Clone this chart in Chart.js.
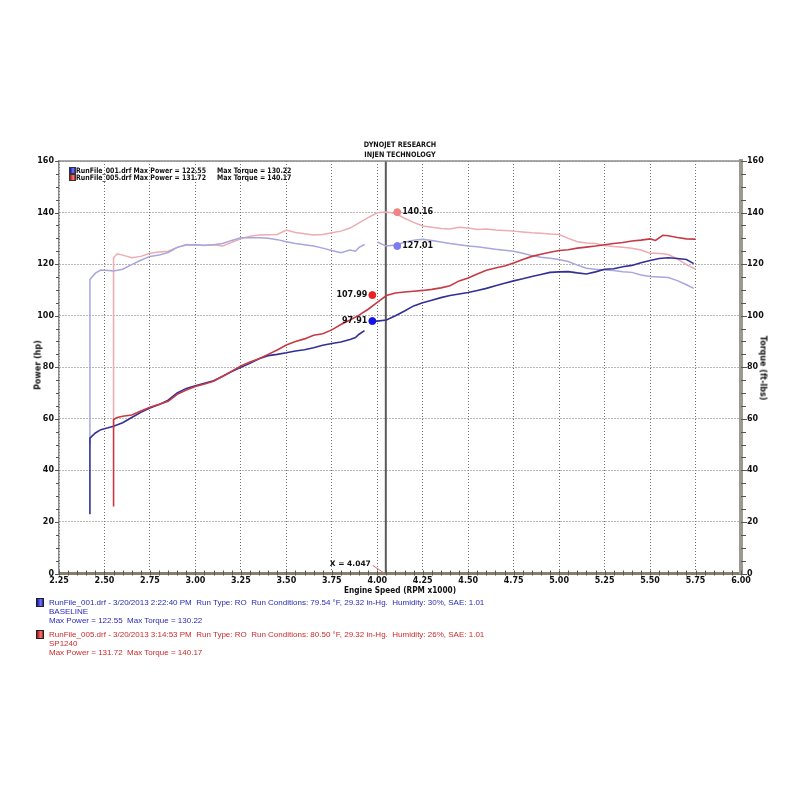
<!DOCTYPE html>
<html>
<head>
<meta charset="utf-8">
<script src="https://cdn.jsdelivr.net/npm/chart.js@4.4.0/dist/chart.umd.min.js"></script>
<style>
  body { margin: 0; background: #fff; }
  #wrap { position: relative; width: 800px; height: 800px; overflow: hidden; }
  #grafico { position: absolute; left: 0; top: 0; }
  .t { position: absolute; white-space: nowrap; font-family: "DejaVu Sans", sans-serif; font-weight: bold; color: #111; }
  #titulo { left: 300px; width: 200px; top: 140px; text-align: center; font-size: 7.5px; line-height: 9.5px; transform: scaleX(0.86); }
  #legTop { left: 69px; top: 167px; font-size: 7.5px; line-height: 7px; }
  #legTop div { position: relative; height: 6.6px; }
  #legTop span.sq { position: absolute; left: 0; top: 0; width: 5px; height: 5px; border: 1px solid #333; }
  #legTop span.a, #legTop span.b { position: absolute; transform: scaleX(0.835); transform-origin: 0 0; }
  #legTop span.a { left: 7px; }
  #legTop span.b { left: 148px; }
  #yTitle { left: 38px; top: 365px; font-size: 8px; transform: translate(-50%, -50%) rotate(-90deg); }
  #y2Title { left: 763px; top: 368px; font-size: 8px; transform: translate(-50%, -50%) rotate(90deg); }
  #xTitle { left: 400px; top: 590px; font-size: 8px; transform: translate(-50%, -50%) scaleX(0.92); }
  #legBottom { position: absolute; left: 36px; top: 597.5px; font-family: "Liberation Sans", Arial, sans-serif; font-size: 8px; line-height: 9px; }
  #legBottom .run { position: relative; padding-left: 13px; margin-bottom: 5px; }
  #legBottom .sq { position: absolute; left: 0; top: 0.5px; width: 6px; height: 7px; border: 1px solid #222; }
  .blue { color: #2a2ab4; }
  .red { color: #cc2a2a; }
  .sqb { background: linear-gradient(90deg, #1010a0, #7878ff 65%, #1a1aa8); }
  .sqr { background: linear-gradient(90deg, #a01010, #ff7878 65%, #b01a1a); }
</style>
</head>
<body>
<div id="wrap">
  <canvas id="grafico" width="800" height="800"></canvas>
  <div class="t" id="titulo">DYNOJET RESEARCH<br>INJEN TECHNOLOGY</div>
  <div class="t" id="legTop">
    <div><span class="sq sqb"></span><span class="a">RunFile_001.drf Max Power = 122.55</span><span class="b">Max Torque = 130.22</span></div>
    <div><span class="sq sqr"></span><span class="a">RunFile_005.drf Max Power = 131.72</span><span class="b">Max Torque = 140.17</span></div>
  </div>
  <div class="t" id="yTitle">Power (hp)</div>
  <div class="t" id="y2Title">Torque (ft-lbs)</div>
  <div class="t" id="xTitle">Engine Speed (RPM x1000)</div>
  <div id="legBottom">
    <div class="run blue"><span class="sq sqb"></span>RunFile_001.drf - 3/20/2013 2:22:40 PM&nbsp; Run Type: RO&nbsp; Run Conditions: 79.54 &deg;F, 29.32 in-Hg.&nbsp; Humidity: 30%, SAE: 1.01<br>BASELINE<br>Max Power = 122.55&nbsp; Max Torque = 130.22</div>
    <div class="run red"><span class="sq sqr"></span>RunFile_005.drf - 3/20/2013 3:14:53 PM&nbsp; Run Type: RO&nbsp; Run Conditions: 80.50 &deg;F, 29.32 in-Hg.&nbsp; Humidity: 26%, SAE: 1.01<br>SP1240<br>Max Power = 131.72&nbsp; Max Torque = 140.17</div>
  </div>
</div>
<script>
// RunFile_001 (BASELINE) - rpm x1000, power (hp), torque (ft-lbs); null = gap in the run
var rpmBase = [2.42, 2.42, 2.45, 2.48, 2.52, 2.55, 2.60, 2.65, 2.70, 2.75,
  2.80, 2.85, 2.90, 2.95, 3.00, 3.05, 3.10, 3.15, 3.20, 3.25,
  3.30, 3.35, 3.40, 3.45, 3.50, 3.55, 3.60, 3.65, 3.70, 3.75,
  3.80, 3.85, 3.88, 3.90, 3.93, 3.95, 3.97, 4.00, 4.05, 4.10,
  4.15, 4.20, 4.25, 4.30, 4.35, 4.40, 4.45, 4.50, 4.55, 4.60,
  4.65, 4.70, 4.75, 4.80, 4.85, 4.90, 4.95, 5.00, 5.05, 5.10,
  5.15, 5.20, 5.25, 5.30, 5.35, 5.40, 5.45, 5.50, 5.55, 5.60,
  5.65, 5.70, 5.74]
var hpBase = [23, 52.5, 54.5, 55.8, 56.5, 57.1, 58.5, 60.5, 62.5, 64.2,
  65.5, 67.2, 70.0, 71.8, 72.8, 73.8, 74.8, 76.5, 78.3, 80.0,
  81.5, 83.3, 84.5, 85.0, 85.6, 86.3, 86.8, 87.6, 88.5, 89.2,
  89.8, 90.8, 91.5, 92.8, 94.2, null, 97.9, 97.9, 98.3, 100.0,
  101.8, 103.8, 105.0, 106.0, 107.0, 107.8, 108.4, 109.0, 109.8, 110.6,
  111.6, 112.6, 113.5, 114.3, 115.2, 116.0, 116.8, 117.0, 117.1, 116.6,
  116.2, 117.0, 118.0, 118.2, 119.0, 119.5, 120.5, 121.4, 122.2, 122.5,
  122.2, 121.8, 120.2]
var tqBase = [50, 114, 116.5, 117.7, 117.5, 117.3, 118.0, 119.8, 121.5, 123.0,
  123.5, 124.5, 126.5, 127.4, 127.5, 127.3, 127.5, 128.0, 129.2, 130.2,
  130.2, 130.2, 130.0, 129.5, 128.7, 128.0, 127.5, 127.0, 126.2, 125.3,
  124.4, 125.5, 125.0, 126.5, 127.6, null, null, 128.6, 127.0, 127.4,
  128.5, 129.3, 129.6, 129.2, 128.6, 128.0, 127.5, 127.0, 126.7, 126.3,
  125.8, 125.4, 125.0, 124.2, 123.3, 122.7, 122.3, 121.8, 121.0, 119.6,
  118.4, 118.0, 117.7, 117.5, 117.0, 116.8, 115.8, 115.2, 115.0, 114.8,
  113.6, 112.0, 110.6]

// RunFile_005 (SP1240)
var rpmSp = [2.55, 2.55, 2.57, 2.60, 2.65, 2.70, 2.75, 2.80, 2.85, 2.90,
  2.95, 3.00, 3.05, 3.10, 3.15, 3.20, 3.25, 3.30, 3.35, 3.40,
  3.45, 3.50, 3.55, 3.60, 3.65, 3.70, 3.75, 3.80, 3.85, 3.90,
  3.95, 4.00, 4.05, 4.10, 4.15, 4.20, 4.25, 4.30, 4.35, 4.40,
  4.45, 4.50, 4.55, 4.60, 4.65, 4.70, 4.75, 4.80, 4.85, 4.90,
  4.95, 5.00, 5.05, 5.10, 5.15, 5.20, 5.25, 5.30, 5.35, 5.40,
  5.45, 5.50, 5.53, 5.57, 5.60, 5.65, 5.70, 5.75]
var hpSp = [26, 59.7, 60.5, 61.0, 61.5, 63.0, 64.5, 65.6, 66.8, 69.5,
  71.2, 72.5, 73.5, 74.6, 76.5, 78.5, 80.5, 82.0, 83.3, 85.0,
  86.7, 88.6, 90.0, 91.0, 92.4, 93.0, 94.5, 96.6, 98.3, 100.2,
  102.5, 105.2, 107.8, 108.8, 109.2, 109.5, 109.8, 110.2, 110.8, 111.6,
  113.5, 114.6, 116.2, 117.6, 118.5, 119.3, 120.4, 121.8, 123.0, 123.8,
  124.6, 125.3, 125.6, 126.2, 126.6, 127.0, 127.5, 128.0, 128.4, 129.0,
  129.3, 129.8, 129.2, 131.2, 131.0, 130.3, 129.8, 129.7]
var tqSp = [56, 122.5, 124.0, 123.5, 122.5, 123.0, 124.2, 124.7, 125.0, 126.5,
  127.6, 127.4, 127.2, 127.5, 127.0, 128.5, 129.8, 130.8, 131.3, 131.4,
  131.5, 133.2, 132.3, 131.8, 131.3, 131.5, 132.2, 132.8, 134.0, 136.0,
  138.0, 139.9, 140.2, 139.6, 137.8, 136.2, 134.8, 134.3, 133.8, 133.6,
  134.3, 134.0, 133.4, 133.6, 133.2, 133.0, 132.8, 132.5, 132.2, 132.0,
  131.7, 131.5, 130.0, 128.7, 128.2, 128.0, 127.2, 126.8, 126.5, 126.2,
  125.5, 124.2, 124.2, 124.0, 123.7, 122.0, 119.8, 118.0]

// cursor readout
var cursorRpm = 4.047
var markerPowerRpm = 3.973
var markerTorqueRpm = 4.11
var powerAtCursor = [97.91, 107.99]   // baseline, SP1240
var torqueAtCursor = [127.01, 140.16] // baseline, SP1240

function pontos(xs, ys) {
  return xs.map(function (v, i) { return { x: v, y: ys[i] } })
}

var fonteEixo = { family: "DejaVu Sans", size: 8, weight: "bold" }
var corGrade = "rgba(105,105,105,0.95)"

var extras = {
  id: "extras",
  beforeDatasetsDraw: function (chart) {
    var ctx = chart.ctx, a = chart.chartArea, x = chart.scales.x
    var cx = x.getPixelForValue(cursorRpm)
    ctx.save()
    ctx.strokeStyle = "#5a5a5a"
    ctx.lineWidth = 2
    ctx.beginPath()
    ctx.moveTo(cx, a.top)
    ctx.lineTo(cx, a.bottom)
    ctx.stroke()
    ctx.restore()
  },
  afterDatasetsDraw: function (chart) {
    var ctx = chart.ctx, a = chart.chartArea, x = chart.scales.x, y = chart.scales.y
    ctx.save()
    // frame top
    ctx.strokeStyle = "#8c8c8c"
    ctx.lineWidth = 1.5
    ctx.beginPath()
    ctx.moveTo(a.left, a.top)
    ctx.lineTo(a.right, a.top)
    ctx.stroke()
    // minor ticks
    ctx.strokeStyle = "#555"
    ctx.lineWidth = 1
    ctx.beginPath()
    for (var v = 2.25; v <= 6.0001; v += 0.05) {
      var px = Math.round(x.getPixelForValue(v)) + 0.5
      ctx.moveTo(px, a.bottom - 3)
      ctx.lineTo(px, a.bottom + 2)
    }
    for (var w = 0; w <= 160; w += 5) {
      var py = Math.round(y.getPixelForValue(w)) + 0.5
      var len = (w % 20 === 0) ? 4 : 3
      ctx.moveTo(a.left - len, py)
      ctx.lineTo(a.left, py)
      ctx.moveTo(a.right, py)
      ctx.lineTo(a.right + len + 2, py)
    }
    ctx.stroke()
    // marker labels
    ctx.font = "bold 8px 'DejaVu Sans'"
    ctx.fillStyle = "#111"
    ctx.textBaseline = "middle"
    ctx.textAlign = "right"
    powerAtCursor.forEach(function (p) {
      ctx.fillText(p.toFixed(2), x.getPixelForValue(markerPowerRpm) - 5, y.getPixelForValue(p))
    })
    ctx.textAlign = "left"
    torqueAtCursor.forEach(function (t) {
      ctx.fillText(t.toFixed(2), x.getPixelForValue(markerTorqueRpm) + 5, y.getPixelForValue(t))
    })
    // cursor readout
    var cx = x.getPixelForValue(cursorRpm)
    ctx.font = "bold 7.5px 'DejaVu Sans'"
    ctx.textAlign = "right"
    ctx.fillText("X = " + cursorRpm.toFixed(3), cx - 15, a.bottom - 9)
    ctx.strokeStyle = "#d07070"
    ctx.beginPath()
    ctx.moveTo(cx - 13, a.bottom - 8)
    ctx.lineTo(cx - 1, a.bottom)
    ctx.stroke()
    ctx.restore()
  }
}

new Chart(document.getElementById("grafico").getContext("2d"), {
  type: "line",
  data: {
    datasets: [
      { data: [{ x: markerPowerRpm, y: powerAtCursor[0] }], showLine: false, pointRadius: 3.5, pointBackgroundColor: "#1414e6", pointBorderColor: "#1414e6" },
      { data: [{ x: markerPowerRpm, y: powerAtCursor[1] }], showLine: false, pointRadius: 3.5, pointBackgroundColor: "#ec2020", pointBorderColor: "#ec2020" },
      { data: [{ x: markerTorqueRpm, y: torqueAtCursor[0] }], yAxisID: "y2", showLine: false, pointRadius: 3.5, pointBackgroundColor: "#7c7cf0", pointBorderColor: "#7c7cf0" },
      { data: [{ x: markerTorqueRpm, y: torqueAtCursor[1] }], yAxisID: "y2", showLine: false, pointRadius: 3.5, pointBackgroundColor: "#f08282", pointBorderColor: "#f08282" },
      { label: "Power SP1240", data: pontos(rpmSp, hpSp), borderColor: "rgb(198,58,70)", borderWidth: 1.6 },
      { label: "Power Baseline", data: pontos(rpmBase, hpBase), borderColor: "rgb(50,48,150)", borderWidth: 1.6 },
      { label: "Torque Baseline", data: pontos(rpmBase, tqBase), yAxisID: "y2", borderColor: "rgb(168,166,220)", borderWidth: 1.5 },
      { label: "Torque SP1240", data: pontos(rpmSp, tqSp), yAxisID: "y2", borderColor: "rgb(236,172,176)", borderWidth: 1.5 }
    ]
  },
  options: {
    responsive: false,
    animation: false,
    spanGaps: false,
    layout: { padding: { left: 0, right: 0, top: 161, bottom: 199.5 } },
    elements: { point: { radius: 0 }, line: { tension: 0 } },
    plugins: { legend: { display: false }, tooltip: { enabled: false } },
    scales: {
      x: {
        type: "linear", min: 2.25, max: 6.0,
        afterFit: function (s) { s.height = 27 },
        ticks: { stepSize: 0.25, padding: 3, color: "#111", font: fonteEixo, maxRotation: 0,
          callback: function (v) { return v.toFixed(2) } },
        grid: { color: corGrade, drawTicks: false, lineWidth: 1 },
        border: { color: "#857f6c", width: 3, dash: [1, 2] }
      },
      y: {
        position: "left", min: 0, max: 160,
        afterFit: function (s) { s.width = 59 },
        ticks: { stepSize: 20, padding: 5, color: "#111", font: fonteEixo },
        grid: { color: corGrade, drawTicks: false, lineWidth: 1 },
        border: { color: "#8c8c8c", width: 1.5, dash: [1, 2] }
      },
      y2: {
        position: "right", min: 0, max: 160,
        afterFit: function (s) { s.width = 59 },
        ticks: { stepSize: 20, padding: 6, color: "#111", font: fonteEixo },
        grid: { display: false, drawTicks: false },
        border: { color: "#9a9a90", width: 4 }
      }
    }
  },
  plugins: [extras]
});
</script>
</body>
</html>
